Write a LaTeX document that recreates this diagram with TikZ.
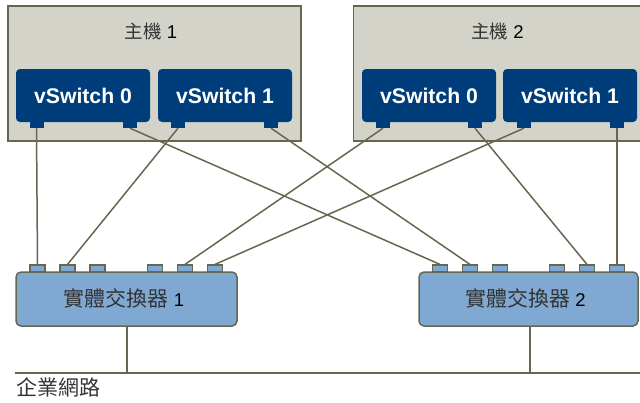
\documentclass[tikz,border=0pt]{standalone}
\usepackage{fontspec}
\setmainfont{Liberation Sans}
\newfontfamily\cjk{Noto Sans CJK TC}
\definecolor{hostfill}{HTML}{D3D3CA}
\definecolor{olivec}{HTML}{67674F}
\definecolor{vsblue}{HTML}{003D7B}
\definecolor{psblue}{HTML}{7FA8D2}
\definecolor{cjkgray}{HTML}{333333}
\newcommand{\cj}[1]{{\cjk\color{cjkgray}#1}}
\newcommand{\cjbig}[1]{{\cjk\fontsize{21}{25}\selectfont\color{cjkgray}#1}}
\begin{document}
\begin{tikzpicture}[x=1pt,y=-1pt,
  host/.style={draw=olivec, fill=hostfill, line width=1.5pt, inner sep=0pt, minimum height=135pt},
  vsw/.style={fill=vsblue, rounded corners=4pt, inner sep=0pt, minimum width=134pt, minimum height=53pt,
     text=white, font=\fontsize{21.2}{25}\selectfont\bfseries},
  vport/.style={fill=vsblue, inner sep=0pt, minimum width=14pt, minimum height=6pt},
  psw/.style={draw=olivec, fill=psblue, line width=1.5pt, rounded corners=5pt, inner sep=0pt, minimum height=54pt},
  pport/.style={draw=olivec, fill=psblue, line width=1.2pt, inner sep=0pt, minimum width=15pt, minimum height=7pt},
  link/.style={draw=olivec, line width=1.5pt},
  lbl/.style={inner sep=0pt, font=\fontsize{18.5}{22}\selectfont},
]
\useasboundingbox (0,0) rectangle (640,402);
\begin{scope}
\clip (0,0) rectangle (640,402);
% hosts
\node[host, minimum width=293pt] (h1) at (154.5,73.5) {};
\node[host, minimum width=292pt] (h2) at (499.5,73.5) {};
\end{scope}
\node[lbl] (h1l) at (151,31) {\cj{主機} 1};
\node[lbl] (h2l) at (497.5,31) {\cj{主機} 2};
% vSwitch ports
\node[vport] (p10a) at (36.5,125) {};
\node[vport] (p10b) at (130,125) {};
\node[vport] (p11a) at (178,125) {};
\node[vport] (p11b) at (271,125) {};
\node[vport] (p20a) at (383,125) {};
\node[vport] (p20b) at (475,125) {};
\node[vport] (p21a) at (524,125) {};
\node[vport] (p21b) at (617,125) {};
% vSwitches
\node[vsw] (v10) at (83,95.5) {vSwitch 0};
\node[vsw] (v11) at (225,95.5) {vSwitch 1};
\node[vsw] (v20) at (429,95.5) {vSwitch 0};
\node[vsw] (v21) at (570,95.5) {vSwitch 1};
% physical switch ports
\node[pport] (s1p1) at (37.5,268.5) {};
\node[pport] (s1p2) at (67.5,268.5) {};
\node[pport] (s1p3) at (97.5,268.5) {};
\node[pport] (s1p4) at (155,268.5) {};
\node[pport] (s1p5) at (185,268.5) {};
\node[pport] (s1p6) at (215,268.5) {};
\node[pport] (s2p1) at (440,268.5) {};
\node[pport] (s2p2) at (470,268.5) {};
\node[pport] (s2p3) at (500,268.5) {};
\node[pport] (s2p4) at (557,268.5) {};
\node[pport] (s2p5) at (587,268.5) {};
\node[pport] (s2p6) at (617,268.5) {};
% physical switches
\node[psw, minimum width=221pt] (s1) at (126.5,299) {};
\node[psw, minimum width=219pt] (s2) at (528.5,299) {};
\node[lbl] (s1l) at (124,298) {\cjbig{實體交換器} 1};
\node[lbl] (s2l) at (525.5,298) {\cjbig{實體交換器} 2};
% links
\draw[link] (p10a.south) -- (s1p1.north);
\draw[link] (p10b.south) -- (s2p1.north);
\draw[link] (p11a.south) -- (s1p2.north);
\draw[link] (p11b.south) -- (s2p2.north);
\draw[link] (p20a.south) -- (s1p5.north);
\draw[link] (p20b.south) -- (s2p5.north);
\draw[link] (p21a.south) -- (s1p6.north);
\draw[link] (p21b.south) -- (s2p6.north);
% enterprise network
\coordinate (n1) at (127,373);
\coordinate (n2) at (530,373);
\coordinate (nl) at (15,373);
\coordinate (nr) at (640,373);
\draw[link] (s1.south -| n1) -- (n1);
\draw[link] (s2.south -| n2) -- (n2);
\draw[draw=olivec, line width=2pt] (nl) -- (nr);
\node[lbl, anchor=west] (net) at (16,387) {\cjbig{企業網路}};
\end{tikzpicture}
\end{document}
